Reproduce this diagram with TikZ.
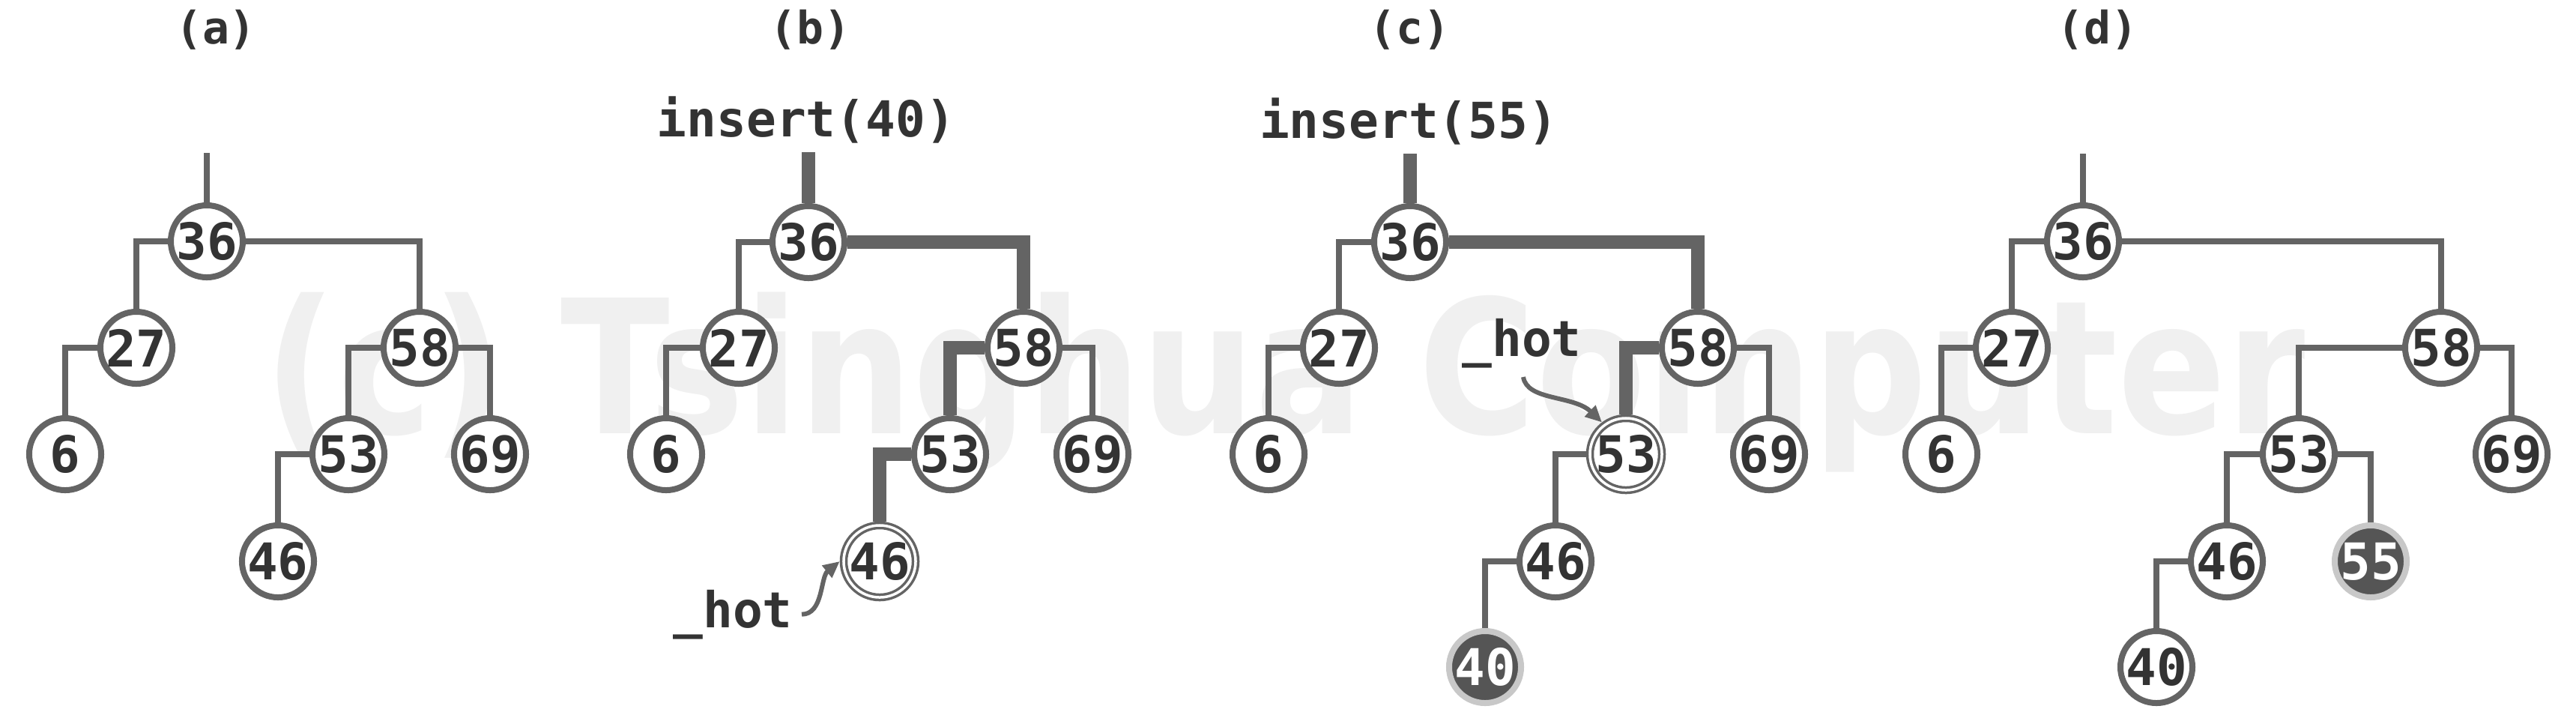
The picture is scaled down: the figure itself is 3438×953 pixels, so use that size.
\documentclass[tikz,border=0pt]{standalone}
\usepackage{fontspec}
\usetikzlibrary{arrows.meta}
\newfontfamily\monofont{DejaVu Sans Mono}
\newfontfamily\wmfont{DejaVu Sans}
\definecolor{linec}{RGB}{100,100,100}
\definecolor{textc}{RGB}{51,51,51}
\definecolor{wmc}{RGB}{240,240,240}
\definecolor{fillc}{RGB}{85,85,85}
\definecolor{ringc}{RGB}{200,200,200}
\begin{document}
\begin{tikzpicture}[x=0.01cm,y=-0.01cm,
 bstnode/.style={circle, draw=linec, line width=0.08cm, fill=white, minimum size=0.96cm, inner sep=0pt, text=textc, font=\monofont\bfseries\fontsize{19.2}{20}\selectfont},
 hotnode/.style={bstnode, line width=0.035cm, double=white, double distance=0.035cm, outer sep=0.0525cm},
 newnode/.style={bstnode, draw=ringc, fill=fillc, text=white},
 link/.style={draw=linec, line width=0.08cm},
 hotlink/.style={draw=linec, line width=0.18cm},
 panellabel/.style={text=textc, font=\monofont\bfseries\fontsize{17}{18}\selectfont, anchor=base},
 cmdtext/.style={text=textc, font=\monofont\bfseries\fontsize{18.8}{20}\selectfont, anchor=base},
 pointer/.style={draw=linec, line width=0.06cm, -{Triangle[length=0.22cm,width=0.2cm]}},
]
\useasboundingbox (0,0) rectangle (3438,953);
\fill[white] (0,0) rectangle (3438,953);
% watermark
\node[anchor=base west, inner sep=0pt, text=wmc, font=\wmfont\bfseries\fontsize{70.6}{80}\selectfont] (wm) at (352,578) {\scalebox{0.86}[1]{(c) Tsinghua Computer}};

% ---------- panel (a)
\node[panellabel] (la) at (288,58) {(a)};
\coordinate (ta) at (276,204);
\node[bstnode] (a36) at (276,322) {36};
\node[bstnode] (a27) at (182,464) {27};
\node[bstnode] (a6)  at (87,606) {6};
\node[bstnode] (a58) at (560,464) {58};
\node[bstnode] (a53) at (465,606) {53};
\node[bstnode] (a69) at (654,606) {69};
\node[bstnode] (a46) at (371,749) {46};
\draw[link] (ta) -- (a36.north);
\draw[link] (a36.west) -| (a27.north);
\draw[link] (a36.east) -| (a58.north);
\draw[link] (a27.west) -| (a6.north);
\draw[link] (a58.west) -| (a53.north);
\draw[link] (a58.east) -| (a69.north);
\draw[link] (a53.west) -| (a46.north);

% ---------- panel (b)
\node[panellabel] (lb) at (1081,58) {(b)};
\node[cmdtext] (ib) at (1076,182) {insert(40)};
\coordinate (tb) at (1079,203);
\node[bstnode] (b36) at (1079,323) {36};
\node[bstnode] (b27) at (986,464) {27};
\node[bstnode] (b6)  at (889,606) {6};
\node[bstnode] (b58) at (1366,464) {58};
\node[bstnode] (b53) at (1268,606) {53};
\node[bstnode] (b69) at (1458,606) {69};
\node[hotnode] (b46) at (1174,749) {46};
\draw[hotlink] (tb) -- (b36.north);
\draw[link] (b36.west) -| (b27.north);
\draw[hotlink] (b36.east) -| (b58.north);
\draw[link] (b27.west) -| (b6.north);
\draw[hotlink] (b58.west) -| (b53.north);
\draw[link] (b58.east) -| (b69.north);
\draw[hotlink] (b53.west) -| (b46.north);
\node[cmdtext] (hb) at (978,837) {\_hot};
\draw[pointer] (hb.east) .. controls +(29,0) and +(-26,21) .. (b46.west);

% ---------- panel (c)
\node[panellabel] (lc) at (1881,58) {(c)};
\node[cmdtext] (ic) at (1880,184) {insert(55)};
\coordinate (tc) at (1882,205);
\node[bstnode] (c36) at (1882,323) {36};
\node[bstnode] (c27) at (1787,464) {27};
\node[bstnode] (c6)  at (1693,606) {6};
\node[bstnode] (c58) at (2266,464) {58};
\node[hotnode] (c53) at (2170,606) {53};
\node[bstnode] (c69) at (2361,606) {69};
\node[bstnode] (c46) at (2076,749) {46};
\node[newnode] (c40) at (1982,890) {40};
\draw[hotlink] (tc) -- (c36.north);
\draw[link] (c36.west) -| (c27.north);
\draw[hotlink] (c36.east) -| (c58.north);
\draw[link] (c27.west) -| (c6.north);
\draw[hotlink] (c58.west) -| (c53.north);
\draw[link] (c58.east) -| (c69.north);
\draw[link] (c53.west) -| (c46.north);
\draw[link] (c46.west) -| (c40.north);
\node[cmdtext] (hc) at (2031,475) {\_hot};
\coordinate (hcs) at (2033,503);
\draw[pointer] (hcs) .. controls (2038,535) and (2100,527) .. (c53.127);

% ---------- panel (d)
\node[panellabel] (ld) at (2799,58) {(d)};
\coordinate (td) at (2780,205);
\node[bstnode] (d36) at (2780,322) {36};
\node[bstnode] (d27) at (2685,464) {27};
\node[bstnode] (d6)  at (2591,606) {6};
\node[bstnode] (d58) at (3258,464) {58};
\node[bstnode] (d53) at (3068,606) {53};
\node[bstnode] (d69) at (3352,606) {69};
\node[bstnode] (d46) at (2972,749) {46};
\node[newnode] (d55) at (3164,749) {55};
\node[bstnode] (d40) at (2878,890) {40};
\draw[link] (td) -- (d36.north);
\draw[link] (d36.west) -| (d27.north);
\draw[link] (d36.east) -| (d58.north);
\draw[link] (d27.west) -| (d6.north);
\draw[link] (d58.west) -| (d53.north);
\draw[link] (d58.east) -| (d69.north);
\draw[link] (d53.west) -| (d46.north);
\draw[link] (d53.east) -| (d55.north);
\draw[link] (d46.west) -| (d40.north);
\end{tikzpicture}
\end{document}
